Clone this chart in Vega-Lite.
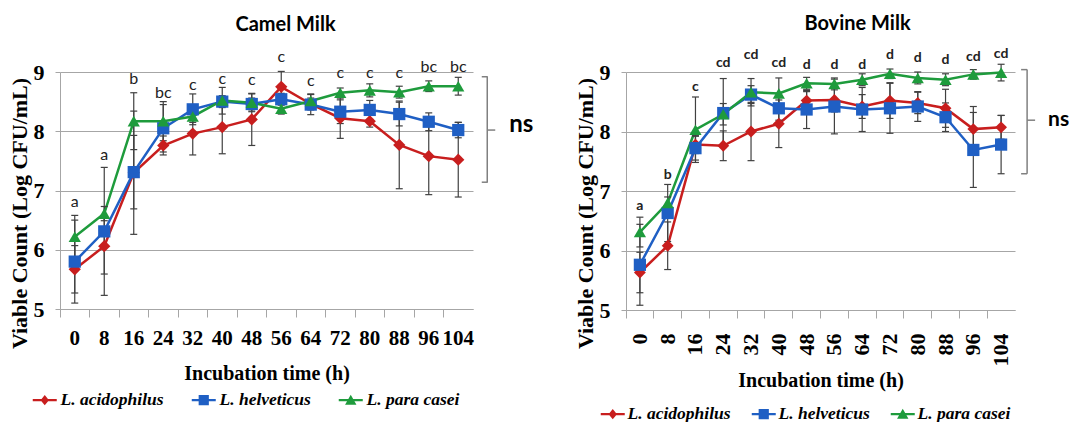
{
"$schema": "https://vega.github.io/schema/vega-lite/v6.json",
"padding": {"left": 7, "top": 14, "right": 0, "bottom": 0},
"background": "white",
"bounds": "flush",
"spacing": 153,
"config": {
 "view": {"stroke": null},
 "axisY": {"grid": true, "gridColor": "#A6A6A6", "domainColor": "#A6A6A6", "tickColor": "#A6A6A6", "tickSize": 5, "labelFont": "Liberation Serif", "labelFontWeight": "bold", "labelFontSize": 22, "labelColor": "#000000", "labelPadding": 11, "titleFont": "Liberation Serif", "titleFontSize": 22, "titleFontWeight": "bold", "titleColor": "#000000", "titlePadding": 2, "titleY": 141},
 "legend": {"title": null, "orient": "none", "direction": "horizontal", "symbolSize": 144, "symbolStrokeWidth": 0, "symbolOpacity": 1, "labelFont": "Liberation Serif", "labelFontStyle": "italic", "labelFontWeight": "bold", "labelFontSize": 17.5, "labelColor": "#000000", "padding": 0}
},
"datasets": {
"camel": [
{"t":0,"s":"L. acidophilus","v":5.67,"lo":5.27,"hi":6.07},{"t":0,"s":"L. helveticus","v":5.80,"lo":5.10,"hi":6.50},{"t":0,"s":"L. para casei","v":6.22,"lo":5.86,"hi":6.58},
{"t":8,"s":"L. acidophilus","v":6.06,"lo":5.59,"hi":6.53},{"t":8,"s":"L. helveticus","v":6.31,"lo":5.23,"hi":7.39},{"t":8,"s":"L. para casei","v":6.61,"lo":6.49,"hi":6.73},
{"t":16,"s":"L. acidophilus","v":7.30,"lo":6.26,"hi":8.34},{"t":16,"s":"L. helveticus","v":7.31,"lo":6.69,"hi":7.93},{"t":16,"s":"L. para casei","v":8.17,"lo":7.69,"hi":8.65},
{"t":24,"s":"L. acidophilus","v":7.76,"lo":7.60,"hi":7.92},{"t":24,"s":"L. helveticus","v":8.05,"lo":7.65,"hi":8.45},{"t":24,"s":"L. para casei","v":8.17,"lo":7.84,"hi":8.50},
{"t":32,"s":"L. acidophilus","v":7.96,"lo":7.60,"hi":8.32},{"t":32,"s":"L. helveticus","v":8.37,"lo":8.11,"hi":8.63},{"t":32,"s":"L. para casei","v":8.25,"lo":8.15,"hi":8.35},
{"t":40,"s":"L. acidophilus","v":8.07,"lo":7.62,"hi":8.52},{"t":40,"s":"L. helveticus","v":8.50,"lo":8.40,"hi":8.60},{"t":40,"s":"L. para casei","v":8.52,"lo":8.29,"hi":8.74},
{"t":48,"s":"L. acidophilus","v":8.20,"lo":7.76,"hi":8.64},{"t":48,"s":"L. helveticus","v":8.46,"lo":8.36,"hi":8.56},{"t":48,"s":"L. para casei","v":8.48,"lo":8.33,"hi":8.63},
{"t":56,"s":"L. acidophilus","v":8.75,"lo":8.48,"hi":9.01},{"t":56,"s":"L. helveticus","v":8.54,"lo":8.44,"hi":8.64},{"t":56,"s":"L. para casei","v":8.38,"lo":8.29,"hi":8.47},
{"t":64,"s":"L. acidophilus","v":8.46,"lo":8.36,"hi":8.56},{"t":64,"s":"L. helveticus","v":8.45,"lo":8.28,"hi":8.62},{"t":64,"s":"L. para casei","v":8.51,"lo":8.39,"hi":8.63},
{"t":72,"s":"L. acidophilus","v":8.22,"lo":7.88,"hi":8.56},{"t":72,"s":"L. helveticus","v":8.33,"lo":8.13,"hi":8.53},{"t":72,"s":"L. para casei","v":8.65,"lo":8.57,"hi":8.73},
{"t":80,"s":"L. acidophilus","v":8.17,"lo":8.07,"hi":8.27},{"t":80,"s":"L. helveticus","v":8.36,"lo":8.20,"hi":8.52},{"t":80,"s":"L. para casei","v":8.69,"lo":8.58,"hi":8.80},
{"t":88,"s":"L. acidophilus","v":7.77,"lo":7.03,"hi":8.51},{"t":88,"s":"L. helveticus","v":8.29,"lo":8.09,"hi":8.49},{"t":88,"s":"L. para casei","v":8.66,"lo":8.56,"hi":8.76},
{"t":96,"s":"L. acidophilus","v":7.58,"lo":6.93,"hi":8.23},{"t":96,"s":"L. helveticus","v":8.16,"lo":8.01,"hi":8.31},{"t":96,"s":"L. para casei","v":8.76,"lo":8.67,"hi":8.85},
{"t":104,"s":"L. acidophilus","v":7.52,"lo":6.89,"hi":8.15},{"t":104,"s":"L. helveticus","v":8.02,"lo":7.89,"hi":8.15},{"t":104,"s":"L. para casei","v":8.76,"lo":8.61,"hi":8.91}
],
"bovine": [
{"t":0,"s":"L. acidophilus","v":5.63,"lo":5.29,"hi":5.97},{"t":0,"s":"L. helveticus","v":5.76,"lo":5.08,"hi":6.44},{"t":0,"s":"L. para casei","v":6.31,"lo":6.06,"hi":6.56},
{"t":8,"s":"L. acidophilus","v":6.08,"lo":5.68,"hi":6.48},{"t":8,"s":"L. helveticus","v":6.63,"lo":6.15,"hi":7.11},{"t":8,"s":"L. para casei","v":6.80,"lo":6.70,"hi":6.90},
{"t":16,"s":"L. acidophilus","v":7.78,"lo":7.63,"hi":7.93},{"t":16,"s":"L. helveticus","v":7.72,"lo":7.52,"hi":7.92},{"t":16,"s":"L. para casei","v":8.03,"lo":7.48,"hi":8.58},
{"t":24,"s":"L. acidophilus","v":7.76,"lo":7.51,"hi":8.01},{"t":24,"s":"L. helveticus","v":8.31,"lo":7.73,"hi":8.89},{"t":24,"s":"L. para casei","v":8.29,"lo":8.11,"hi":8.47},
{"t":32,"s":"L. acidophilus","v":8.00,"lo":7.51,"hi":8.49},{"t":32,"s":"L. helveticus","v":8.62,"lo":8.47,"hi":8.77},{"t":32,"s":"L. para casei","v":8.66,"lo":8.43,"hi":8.89},
{"t":40,"s":"L. acidophilus","v":8.13,"lo":7.73,"hi":8.53},{"t":40,"s":"L. helveticus","v":8.39,"lo":8.19,"hi":8.59},{"t":40,"s":"L. para casei","v":8.64,"lo":8.38,"hi":8.90},
{"t":48,"s":"L. acidophilus","v":8.52,"lo":8.37,"hi":8.67},{"t":48,"s":"L. helveticus","v":8.37,"lo":8.05,"hi":8.69},{"t":48,"s":"L. para casei","v":8.81,"lo":8.71,"hi":8.91},
{"t":56,"s":"L. acidophilus","v":8.53,"lo":8.33,"hi":8.73},{"t":56,"s":"L. helveticus","v":8.42,"lo":7.96,"hi":8.88},{"t":56,"s":"L. para casei","v":8.80,"lo":8.70,"hi":8.90},
{"t":64,"s":"L. acidophilus","v":8.42,"lo":8.22,"hi":8.62},{"t":64,"s":"L. helveticus","v":8.37,"lo":8.00,"hi":8.74},{"t":64,"s":"L. para casei","v":8.87,"lo":8.77,"hi":8.97},
{"t":72,"s":"L. acidophilus","v":8.52,"lo":8.22,"hi":8.82},{"t":72,"s":"L. helveticus","v":8.39,"lo":7.97,"hi":8.81},{"t":72,"s":"L. para casei","v":8.97,"lo":8.89,"hi":9.05},
{"t":80,"s":"L. acidophilus","v":8.48,"lo":8.30,"hi":8.66},{"t":80,"s":"L. helveticus","v":8.42,"lo":8.17,"hi":8.67},{"t":80,"s":"L. para casei","v":8.90,"lo":8.80,"hi":9.00},
{"t":88,"s":"L. acidophilus","v":8.39,"lo":8.07,"hi":8.71},{"t":88,"s":"L. helveticus","v":8.24,"lo":8.00,"hi":8.48},{"t":88,"s":"L. para casei","v":8.87,"lo":8.77,"hi":8.97},
{"t":96,"s":"L. acidophilus","v":8.04,"lo":7.66,"hi":8.42},{"t":96,"s":"L. helveticus","v":7.69,"lo":7.06,"hi":8.32},{"t":96,"s":"L. para casei","v":8.96,"lo":8.88,"hi":9.04},
{"t":104,"s":"L. acidophilus","v":8.07,"lo":7.87,"hi":8.27},{"t":104,"s":"L. helveticus","v":7.78,"lo":7.29,"hi":8.27},{"t":104,"s":"L. para casei","v":8.99,"lo":8.85,"hi":9.13}
],
"camelLetters": [
{"t":0,"lab":"a","ly":6.80},{"t":8,"lab":"a","ly":7.60},{"t":16,"lab":"b","ly":8.89},{"t":24,"lab":"bc","ly":8.65},{"t":32,"lab":"c","ly":8.78},{"t":40,"lab":"c","ly":8.89},{"t":48,"lab":"c","ly":8.86},
{"t":56,"lab":"c","ly":9.26},{"t":64,"lab":"c","ly":8.84},{"t":72,"lab":"c","ly":8.98},{"t":80,"lab":"c","ly":8.98},{"t":88,"lab":"c","ly":8.98},{"t":96,"lab":"bc","ly":9.09},{"t":104,"lab":"bc","ly":9.09}
],
"bovineLetters": [
{"t":0,"lab":"a","ly":6.74},{"t":8,"lab":"b","ly":7.27},{"t":16,"lab":"c","ly":8.74},{"t":24,"lab":"cd","ly":9.15},{"t":32,"lab":"cd","ly":9.28},{"t":40,"lab":"cd","ly":9.15},{"t":48,"lab":"d","ly":9.12},
{"t":56,"lab":"d","ly":9.11},{"t":64,"lab":"d","ly":9.12},{"t":72,"lab":"d","ly":9.28},{"t":80,"lab":"d","ly":9.24},{"t":88,"lab":"d","ly":9.21},{"t":96,"lab":"cd","ly":9.26},{"t":104,"lab":"cd","ly":9.30}
],
"camelBracket": [{"t":104,"top":8.92,"bot":7.14,"mid":8.02,"nsy":8.10,"lab":"ns"}],
"bovineBracket": [{"t":104,"top":9.04,"bot":7.29,"mid":8.19,"nsy":8.19,"lab":"ns"}]
},
"resolve": {"scale": {"x": "independent", "y": "independent", "color": "independent", "shape": "independent"}, "legend": {"color": "independent", "shape": "independent"}},
"hconcat": [
{
"width": 413, "height": 237,
"title": {"text": "Camel Milk", "font": "Lato", "fontSize": 20, "fontWeight": "bold", "color": "#000000", "frame": "group", "anchor": "middle", "offset": 14, "dx": 19},
"encoding": {"x": {"field": "t", "type": "ordinal",
  "scale": {"type": "band", "domain": [0,8,16,24,32,40,48,56,64,72,80,88,96,104], "paddingInner": 0, "paddingOuter": 0},
  "axis": {"title": "Incubation time (h)", "bandPosition": 0, "labelAngle": 0, "labelFont": "Liberation Serif", "labelFontWeight": "bold", "labelFontSize": 21, "labelColor": "#000000", "labelPadding": 10, "labelOverlap": false, "tickSize": 8, "tickColor": "#A6A6A6", "domainColor": "#A6A6A6", "grid": false, "titleFont": "Liberation Serif", "titleFontSize": 20, "titleFontWeight": "bold", "titleColor": "#000000", "titlePadding": 15}}},
"layer": [
{"data": {"name": "camel"}, "transform": [{"filter": "datum.s === 'L. acidophilus'"}], "mark": {"type": "line", "strokeWidth": 2.5, "color": "#C81E1E"},
 "encoding": {"y": {"field": "v", "type": "quantitative", "scale": {"domain": [5, 9], "nice": false, "zero": false}, "axis": {"title": "Viable Count (Log CFU/mL)", "values": [5,6,7,8,9]}}}},
{"data": {"name": "camel"}, "transform": [{"filter": "datum.s === 'L. helveticus'"}], "mark": {"type": "line", "strokeWidth": 2.5, "color": "#1F5FC4"},
 "encoding": {"y": {"field": "v", "type": "quantitative", "axis": {"title": "Viable Count (Log CFU/mL)", "values": [5,6,7,8,9]}}}},
{"data": {"name": "camel"}, "transform": [{"filter": "datum.s === 'L. para casei'"}], "mark": {"type": "line", "strokeWidth": 2.5, "color": "#1E9B3C"},
 "encoding": {"y": {"field": "v", "type": "quantitative", "axis": {"title": "Viable Count (Log CFU/mL)", "values": [5,6,7,8,9]}}}},
{"data": {"name": "camel"}, "mark": {"type": "rule", "color": "#404040", "strokeWidth": 1.2},
 "encoding": {"y": {"field": "lo", "type": "quantitative", "axis": {"title": "Viable Count (Log CFU/mL)", "values": [5,6,7,8,9]}}, "y2": {"field": "hi"}}},
{"data": {"name": "camel"}, "mark": {"type": "tick", "orient": "horizontal", "size": 7, "thickness": 1.2, "color": "#404040", "opacity": 1},
 "encoding": {"y": {"field": "lo", "type": "quantitative", "axis": {"title": "Viable Count (Log CFU/mL)", "values": [5,6,7,8,9]}}}},
{"data": {"name": "camel"}, "mark": {"type": "tick", "orient": "horizontal", "size": 7, "thickness": 1.2, "color": "#404040", "opacity": 1},
 "encoding": {"y": {"field": "hi", "type": "quantitative", "axis": {"title": "Viable Count (Log CFU/mL)", "values": [5,6,7,8,9]}}}},
{"data": {"name": "camel"}, "transform": [{"filter": "datum.s === 'L. acidophilus'"}], "mark": {"type": "point", "shape": "diamond", "filled": true, "size": 150, "color": "#C81E1E", "opacity": 1},
 "encoding": {"y": {"field": "v", "type": "quantitative", "axis": {"title": "Viable Count (Log CFU/mL)", "values": [5,6,7,8,9]}}}},
{"data": {"name": "camel"}, "transform": [{"filter": "datum.s === 'L. helveticus'"}], "mark": {"type": "point", "shape": "square", "filled": true, "size": 150, "color": "#1F5FC4", "opacity": 1},
 "encoding": {"y": {"field": "v", "type": "quantitative", "axis": {"title": "Viable Count (Log CFU/mL)", "values": [5,6,7,8,9]}}}},
{"data": {"name": "camel"}, "transform": [{"filter": "datum.s === 'L. para casei'"}], "mark": {"type": "point", "shape": "triangle-up", "filled": true, "size": 150, "color": "#1E9B3C", "opacity": 1},
 "encoding": {"y": {"field": "v", "type": "quantitative", "axis": {"title": "Viable Count (Log CFU/mL)", "values": [5,6,7,8,9]}}}},
{"data": {"name": "camel"}, "transform": [{"filter": "false"}], "mark": {"type": "point", "filled": true, "opacity": 1},
 "encoding": {"y": {"field": "v", "type": "quantitative", "axis": {"title": "Viable Count (Log CFU/mL)", "values": [5,6,7,8,9]}},
  "color": {"field": "s", "type": "nominal", "scale": {"domain": ["L. acidophilus", "L. helveticus", "L. para casei"], "range": ["#C81E1E", "#1F5FC4", "#1E9B3C"]},
    "legend": {"legendX": -24, "legendY": 319, "columnPadding": 27, "labelOffset": 7}},
  "shape": {"field": "s", "type": "nominal", "scale": {"domain": ["L. acidophilus", "L. helveticus", "L. para casei"], "range": ["M-2,-0.2H2V0.2H-2Z M0,-0.85L0.7,0L0,0.85L-0.7,0Z", "M-2,-0.2H2V0.2H-2Z M-0.85,-0.85H0.85V0.85H-0.85Z", "M-2,-0.2H2V0.2H-2Z M0,-0.9L0.95,0.75H-0.95Z"]},
    "legend": {"legendX": -24, "legendY": 319, "columnPadding": 27, "labelOffset": 7}}}},
{"data": {"name": "camelLetters"}, "mark": {"type": "text", "font": "Lato", "fontSize": 16, "color": "#222222", "baseline": "middle"},
 "encoding": {"y": {"field": "ly", "type": "quantitative", "axis": {"title": "Viable Count (Log CFU/mL)", "values": [5,6,7,8,9]}}, "text": {"field": "lab"}}},
{"data": {"name": "camelBracket"}, "mark": {"type": "rule", "xOffset": 29, "color": "#808080", "strokeWidth": 1.5},
 "encoding": {"y": {"field": "top", "type": "quantitative", "axis": {"title": "Viable Count (Log CFU/mL)", "values": [5,6,7,8,9]}}, "y2": {"field": "bot"}}},
{"data": {"name": "camelBracket"}, "mark": {"type": "tick", "orient": "horizontal", "xOffset": 26.5, "size": 6, "thickness": 1.5, "color": "#808080", "opacity": 1},
 "encoding": {"y": {"field": "top", "type": "quantitative", "axis": {"title": "Viable Count (Log CFU/mL)", "values": [5,6,7,8,9]}}}},
{"data": {"name": "camelBracket"}, "mark": {"type": "tick", "orient": "horizontal", "xOffset": 26.5, "size": 6, "thickness": 1.5, "color": "#808080", "opacity": 1},
 "encoding": {"y": {"field": "bot", "type": "quantitative", "axis": {"title": "Viable Count (Log CFU/mL)", "values": [5,6,7,8,9]}}}},
{"data": {"name": "camelBracket"}, "mark": {"type": "tick", "orient": "horizontal", "xOffset": 33, "size": 8, "thickness": 1.5, "color": "#808080", "opacity": 1},
 "encoding": {"y": {"field": "mid", "type": "quantitative", "axis": {"title": "Viable Count (Log CFU/mL)", "values": [5,6,7,8,9]}}}},
{"data": {"name": "camelBracket"}, "mark": {"type": "text", "dx": 51, "align": "left", "baseline": "middle", "font": "Lato", "fontSize": 24, "fontWeight": "bold", "color": "#000000"},
 "encoding": {"y": {"field": "nsy", "type": "quantitative", "axis": {"title": "Viable Count (Log CFU/mL)", "values": [5,6,7,8,9]}}, "text": {"field": "lab"}}}
]
},
{
"width": 389, "height": 238,
"title": {"text": "Bovine Milk", "font": "Lato", "fontSize": 20, "fontWeight": "bold", "color": "#000000", "frame": "group", "anchor": "middle", "offset": 13, "dx": 37},
"encoding": {"x": {"field": "t", "type": "ordinal",
  "scale": {"type": "band", "domain": [0,8,16,24,32,40,48,56,64,72,80,88,96,104], "paddingInner": 0, "paddingOuter": 0},
  "axis": {"title": "Incubation time (h)", "bandPosition": 0, "labelAngle": -90, "labelFont": "Liberation Serif", "labelFontWeight": "bold", "labelFontSize": 22, "labelColor": "#000000", "labelPadding": 15, "labelOverlap": false, "tickSize": 8, "tickColor": "#A6A6A6", "domainColor": "#A6A6A6", "grid": false, "titleFont": "Liberation Serif", "titleFontSize": 20, "titleFontWeight": "bold", "titleColor": "#000000", "titlePadding": 4}}},
"layer": [
{"data": {"name": "bovine"}, "transform": [{"filter": "datum.s === 'L. acidophilus'"}], "mark": {"type": "line", "strokeWidth": 2.5, "color": "#C81E1E"},
 "encoding": {"y": {"field": "v", "type": "quantitative", "scale": {"domain": [5, 9], "nice": false, "zero": false}, "axis": {"title": "Viable Count (Log CFU/mL)", "values": [5,6,7,8,9]}}}},
{"data": {"name": "bovine"}, "transform": [{"filter": "datum.s === 'L. helveticus'"}], "mark": {"type": "line", "strokeWidth": 2.5, "color": "#1F5FC4"},
 "encoding": {"y": {"field": "v", "type": "quantitative", "axis": {"title": "Viable Count (Log CFU/mL)", "values": [5,6,7,8,9]}}}},
{"data": {"name": "bovine"}, "transform": [{"filter": "datum.s === 'L. para casei'"}], "mark": {"type": "line", "strokeWidth": 2.5, "color": "#1E9B3C"},
 "encoding": {"y": {"field": "v", "type": "quantitative", "axis": {"title": "Viable Count (Log CFU/mL)", "values": [5,6,7,8,9]}}}},
{"data": {"name": "bovine"}, "mark": {"type": "rule", "color": "#404040", "strokeWidth": 1.2},
 "encoding": {"y": {"field": "lo", "type": "quantitative", "axis": {"title": "Viable Count (Log CFU/mL)", "values": [5,6,7,8,9]}}, "y2": {"field": "hi"}}},
{"data": {"name": "bovine"}, "mark": {"type": "tick", "orient": "horizontal", "size": 7, "thickness": 1.2, "color": "#404040", "opacity": 1},
 "encoding": {"y": {"field": "lo", "type": "quantitative", "axis": {"title": "Viable Count (Log CFU/mL)", "values": [5,6,7,8,9]}}}},
{"data": {"name": "bovine"}, "mark": {"type": "tick", "orient": "horizontal", "size": 7, "thickness": 1.2, "color": "#404040", "opacity": 1},
 "encoding": {"y": {"field": "hi", "type": "quantitative", "axis": {"title": "Viable Count (Log CFU/mL)", "values": [5,6,7,8,9]}}}},
{"data": {"name": "bovine"}, "transform": [{"filter": "datum.s === 'L. acidophilus'"}], "mark": {"type": "point", "shape": "diamond", "filled": true, "size": 140, "color": "#C81E1E", "opacity": 1},
 "encoding": {"y": {"field": "v", "type": "quantitative", "axis": {"title": "Viable Count (Log CFU/mL)", "values": [5,6,7,8,9]}}}},
{"data": {"name": "bovine"}, "transform": [{"filter": "datum.s === 'L. helveticus'"}], "mark": {"type": "point", "shape": "square", "filled": true, "size": 150, "color": "#1F5FC4", "opacity": 1},
 "encoding": {"y": {"field": "v", "type": "quantitative", "axis": {"title": "Viable Count (Log CFU/mL)", "values": [5,6,7,8,9]}}}},
{"data": {"name": "bovine"}, "transform": [{"filter": "datum.s === 'L. para casei'"}], "mark": {"type": "point", "shape": "triangle-up", "filled": true, "size": 150, "color": "#1E9B3C", "opacity": 1},
 "encoding": {"y": {"field": "v", "type": "quantitative", "axis": {"title": "Viable Count (Log CFU/mL)", "values": [5,6,7,8,9]}}}},
{"data": {"name": "bovine"}, "transform": [{"filter": "false"}], "mark": {"type": "point", "filled": true, "opacity": 1},
 "encoding": {"y": {"field": "v", "type": "quantitative", "axis": {"title": "Viable Count (Log CFU/mL)", "values": [5,6,7,8,9]}},
  "color": {"field": "s", "type": "nominal", "scale": {"domain": ["L. acidophilus", "L. helveticus", "L. para casei"], "range": ["#C81E1E", "#1F5FC4", "#1E9B3C"]},
    "legend": {"legendX": -22, "legendY": 333, "columnPadding": 20, "labelOffset": 6}},
  "shape": {"field": "s", "type": "nominal", "scale": {"domain": ["L. acidophilus", "L. helveticus", "L. para casei"], "range": ["M-2,-0.2H2V0.2H-2Z M0,-0.85L0.7,0L0,0.85L-0.7,0Z", "M-2,-0.2H2V0.2H-2Z M-0.85,-0.85H0.85V0.85H-0.85Z", "M-2,-0.2H2V0.2H-2Z M0,-0.9L0.95,0.75H-0.95Z"]},
    "legend": {"legendX": -22, "legendY": 333, "columnPadding": 20, "labelOffset": 6}}}},
{"data": {"name": "bovineLetters"}, "mark": {"type": "text", "font": "Lato", "fontSize": 14, "fontWeight": "bold", "color": "#222222", "baseline": "middle"},
 "encoding": {"y": {"field": "ly", "type": "quantitative", "axis": {"title": "Viable Count (Log CFU/mL)", "values": [5,6,7,8,9]}}, "text": {"field": "lab"}}},
{"data": {"name": "bovineBracket"}, "mark": {"type": "rule", "xOffset": 26, "color": "#808080", "strokeWidth": 1.5},
 "encoding": {"y": {"field": "top", "type": "quantitative", "axis": {"title": "Viable Count (Log CFU/mL)", "values": [5,6,7,8,9]}}, "y2": {"field": "bot"}}},
{"data": {"name": "bovineBracket"}, "mark": {"type": "tick", "orient": "horizontal", "xOffset": 23, "size": 6, "thickness": 1.5, "color": "#808080", "opacity": 1},
 "encoding": {"y": {"field": "top", "type": "quantitative", "axis": {"title": "Viable Count (Log CFU/mL)", "values": [5,6,7,8,9]}}}},
{"data": {"name": "bovineBracket"}, "mark": {"type": "tick", "orient": "horizontal", "xOffset": 23, "size": 6, "thickness": 1.5, "color": "#808080", "opacity": 1},
 "encoding": {"y": {"field": "bot", "type": "quantitative", "axis": {"title": "Viable Count (Log CFU/mL)", "values": [5,6,7,8,9]}}}},
{"data": {"name": "bovineBracket"}, "mark": {"type": "tick", "orient": "horizontal", "xOffset": 30, "size": 8, "thickness": 1.5, "color": "#808080", "opacity": 1},
 "encoding": {"y": {"field": "mid", "type": "quantitative", "axis": {"title": "Viable Count (Log CFU/mL)", "values": [5,6,7,8,9]}}}},
{"data": {"name": "bovineBracket"}, "mark": {"type": "text", "dx": 47, "align": "left", "baseline": "middle", "font": "Lato", "fontSize": 21, "fontWeight": "bold", "color": "#000000"},
 "encoding": {"y": {"field": "nsy", "type": "quantitative", "axis": {"title": "Viable Count (Log CFU/mL)", "values": [5,6,7,8,9]}}, "text": {"field": "lab"}}}
]
}
]
}
